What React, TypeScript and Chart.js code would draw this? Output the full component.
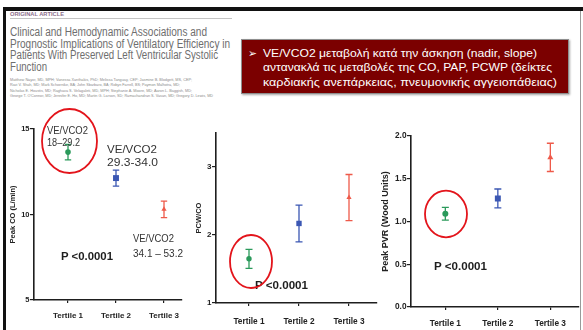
import React, { useEffect, useLayoutEffect, useRef } from 'react';
import { Chart, registerables } from 'chart.js';

Chart.register(...registerables);

const FONT = '"Liberation Sans", Arial, Helvetica, sans-serif';

// ---------- data ----------
const categories = ['Tertile 1', 'Tertile 2', 'Tertile 3'];
const tertileColors = ['#2b9a5b', '#3b57b3', '#ee5a4a'];
const tertileStyles = ['circle', 'rect', 'triangle'];

const coMeans = [13.65, 12.13, 10.3];
const coSem = [0.45, 0.47, 0.48];
const coTicks = [5, 10, 15];

const pcwMeans = [1.65, 2.17, 2.55];
const pcwSem = [0.14, 0.27, 0.34];
const pcwTicks = [1, 2, 3];

const pvrMeans = [1.09, 1.27, 1.75];
const pvrSem = [0.075, 0.11, 0.165];
const pvrTicks = [0, 0.5, 1, 1.5, 2];

const yTitles = ['Peak CO (L/min)', 'PCW/CO', 'Peak PVR (Wood Units)'];
const pValue = 'P <0.0001';

const titleLines = [
  'Clinical and Hemodynamic Associations and',
  'Prognostic Implications of Ventilatory Efficiency in',
  'Patients With Preserved Left Ventricular Systolic',
  'Function',
];
const authorLines = [
  'Matthew Nayor, MD, MPH; Vanessa Xanthakis, PhD; Melissa Tanguay, CEP; Jasmine B. Blodgett, MS, CEP;',
  'Ravi V. Shah, MD; Mark Schoenike, BA; John Sbarbaro, BA; Robyn Farrell, BS; Paymon Malhotra, MD;',
  'Nicholas E. Houstis, MD; Raghava S. Velagaleti, MD, MPH; Stephanie A. Moore, MD; Aaron L. Baggish, MD;',
  "George T. O'Connor, MD; Jennifer E. Ho, MD; Martin G. Larson, SD; Ramachandran S. Vasan, MD; Gregory D. Lewis, MD",
];
const boxLines = [
  'VE/VCO2 μεταβολή κατά την άσκηση (nadir, slope)',
  'αντανακλά τις μεταβολές της CO, PAP, PCWP (δείκτες',
  'καρδιακής ανεπάρκειας, πνευμονικής αγγειοπάθειας)',
];
const rangeLabels = [
  ['VE/VCO2', '18–29.2'],
  ['VE/VCO2', '29.3-34.0'],
  ['VE/VCO2', '34.1 – 53.2'],
];

// ---------- panel layout ----------
type Panel = {
  left: number; top: number; width: number; height: number;
  yAxisW: number; xAxisH: number; padTop: number; padRight: number;
  xMin: number; xMax: number; yMin: number; yMax: number;
  yTicks: number[]; decimals: number; means: number[]; sem: number[];
  title: string; titleSize: number; titlePad: number; tickSize: number;
  xTickSize: number; xTickPad: number; radii: number[]; capHalf: number;
};

const panels: Panel[] = [
  {
    left: 6, top: 110, width: 190, height: 220,
    yAxisW: 28, xAxisH: 30, padTop: 19, padRight: 14,
    xMin: 0.2917, xMax: 3.375, yMin: 5, yMax: 15,
    yTicks: coTicks, decimals: 0, means: coMeans, sem: coSem,
    title: yTitles[0], titleSize: 7.5, titlePad: 2.8, tickSize: 7.5,
    xTickSize: 8, xTickPad: 8, radii: [2.8, 4.2, 3], capHalf: 3.2,
  },
  {
    left: 190, top: 110, width: 195, height: 220,
    yAxisW: 26, xAxisH: 27, padTop: 23, padRight: 8,
    xMin: 0.34, xMax: 3.56, yMin: 1, yMax: 3.5,
    yTicks: pcwTicks, decimals: 0, means: pcwMeans, sem: pcwSem,
    title: yTitles[1], titleSize: 7.5, titlePad: 4, tickSize: 8,
    xTickSize: 8.3, xTickPad: 11, radii: [2.7, 3.8, 3], capHalf: 3.5,
  },
  {
    left: 377, top: 110, width: 206, height: 220,
    yAxisW: 34, xAxisH: 23, padTop: 26, padRight: 1,
    xMin: 0.346, xMax: 3.542, yMin: 0, yMax: 2,
    yTicks: pvrTicks, decimals: 1, means: pvrMeans, sem: pvrSem,
    title: yTitles[2], titleSize: 9, titlePad: 3.6, tickSize: 8.3,
    xTickSize: 8.3, xTickPad: 8.5, radii: [3, 4.2, 3.5], capHalf: 3.5,
  },
];

const errorBars = (p: Panel) => ({
  id: 'errorBars',
  beforeDatasetsDraw(chart: any) {
    const { ctx, scales } = chart;
    const x = scales.x;
    const y = scales.y;
    ctx.save();
    p.means.forEach((m, i) => {
      const px = x.getPixelForValue(i + 1);
      const top = y.getPixelForValue(m + p.sem[i]);
      const bot = y.getPixelForValue(m - p.sem[i]);
      ctx.strokeStyle = tertileColors[i];
      ctx.lineWidth = 1.3;
      ctx.beginPath();
      ctx.moveTo(px, top); ctx.lineTo(px, bot);
      ctx.moveTo(px - p.capHalf, top); ctx.lineTo(px + p.capHalf, top);
      ctx.moveTo(px - p.capHalf, bot); ctx.lineTo(px + p.capHalf, bot);
      ctx.stroke();
    });
    ctx.restore();
  },
});

function buildConfig(p: Panel): any {
  const axisColor = '#1e1e1e';
  return {
    type: 'scatter',
    data: {
      datasets: [{
        data: p.means.map((m, i) => ({ x: i + 1, y: m })),
        pointStyle: tertileStyles,
        pointRadius: p.radii,
        backgroundColor: tertileColors,
        borderColor: tertileColors,
        borderWidth: 0,
        showLine: false,
      }],
    },
    options: {
      responsive: false,
      animation: false,
      devicePixelRatio: 1,
      layout: { padding: { top: p.padTop, right: p.padRight, left: 0, bottom: 0 } },
      plugins: { legend: { display: false }, tooltip: { enabled: false } },
      scales: {
        x: {
          type: 'linear', min: p.xMin, max: p.xMax,
          afterBuildTicks: (s: any) => { s.ticks = [1, 2, 3].map((v) => ({ value: v })); },
          afterFit: (s: any) => { s.height = p.xAxisH; },
          ticks: {
            callback: (v: number) => categories[Math.round(v) - 1] ?? '',
            font: { family: FONT, size: p.xTickSize, weight: 'bold' },
            color: '#222', padding: p.xTickPad, maxRotation: 0, autoSkip: false,
          },
          grid: { drawOnChartArea: false, drawTicks: true, tickLength: 3, color: axisColor, lineWidth: 1.2 },
          border: { color: axisColor, width: 1.6 },
        },
        y: {
          type: 'linear', min: p.yMin, max: p.yMax,
          afterBuildTicks: (s: any) => { s.ticks = p.yTicks.map((v) => ({ value: v })); },
          afterFit: (s: any) => { s.width = p.yAxisW; },
          ticks: {
            callback: (v: number) => v.toFixed(p.decimals),
            font: { family: FONT, size: p.tickSize, weight: 'bold' },
            color: '#222', padding: 0.5,
          },
          title: {
            display: true, text: p.title, color: '#222',
            font: { family: FONT, size: p.titleSize, weight: 'bold' },
            padding: { top: p.titlePad, bottom: 0 },
          },
          grid: { drawOnChartArea: false, drawTicks: true, tickLength: 4, color: axisColor, lineWidth: 1.2 },
          border: { color: axisColor, width: 1.6 },
        },
      },
    },
    plugins: [errorBars(p)],
  };
}

function PanelChart({ p }: { p: Panel }) {
  const ref = useRef<HTMLCanvasElement>(null);
  useEffect(() => {
    const chart = new Chart(ref.current as HTMLCanvasElement, buildConfig(p));
    return () => chart.destroy();
  }, []);
  return (
    <canvas
      ref={ref}
      width={p.width}
      height={p.height}
      style={{ position: 'absolute', left: p.left, top: p.top, width: p.width, height: p.height }}
    />
  );
}

function FitText(props: {
  x: number; y: number; w: number; size: number; text: string;
  color?: string; weight?: any; family?: string; spacing?: number;
}) {
  const ref = useRef<HTMLDivElement>(null);
  useLayoutEffect(() => {
    const el = ref.current;
    if (!el) return;
    el.style.transform = 'translateY(-50%)';
    const nat = el.getBoundingClientRect().width;
    if (nat > 0) el.style.transform = `translateY(-50%) scaleX(${props.w / nat})`;
  }, []);
  return (
    <div
      ref={ref}
      style={{
        position: 'absolute', left: props.x, top: props.y, fontSize: props.size,
        lineHeight: 1, whiteSpace: 'pre', color: props.color ?? '#222',
        fontWeight: props.weight ?? 'normal', fontFamily: props.family ?? FONT,
        letterSpacing: props.spacing ?? 0, transformOrigin: '0 50%',
        transform: 'translateY(-50%)', zIndex: 3,
      }}
    >
      {props.text}
    </div>
  );
}

export default function App() {
  const titleY = [32, 43.5, 55, 67];
  const titleW = [197, 220, 208, 37];
  const authorY = [80, 85.3, 90.6, 96];
  const authorW = [182, 170, 182, 203];
  const boxY = [52.7, 67.3, 82];
  const boxW = [274, 289, 294];
  const rangePos = [
    { x: 47, y: [130, 142], w: [41, 33] },
    { x: 107, y: [149, 162], w: [50, 51] },
    { x: 133, y: [238, 253], w: [41, 50] },
  ];
  const pPos = [
    { x: 61, y: 257, w: 52 },
    { x: 255, y: 286, w: 53 },
    { x: 434, y: 267, w: 53 },
  ];
  const ellipses = [
    { cx: 69.5, cy: 141, rx: 27.5, ry: 32 },
    { cx: 251, cy: 261.5, rx: 21, ry: 26.5 },
    { cx: 446, cy: 214, rx: 21, ry: 23.3 },
  ];
  return (
    <div
      style={{
        position: 'fixed', left: 0, top: 0, width: 583, height: 330,
        background: '#fff', overflow: 'hidden', fontFamily: FONT,
      }}
    >
      {/* slide frame */}
      <div style={{ position: 'absolute', left: 3, top: 7, width: 580, height: 4, background: '#111' }} />
      <div style={{ position: 'absolute', left: 3, top: 7, width: 3, height: 323, background: '#111' }} />
      <div style={{ position: 'absolute', left: 580, top: 11, width: 1, height: 319, background: '#9a9a9a' }} />

      {/* article header */}
      <FitText x={10} y={15} w={54} size={5.5} text="ORIGINAL ARTICLE" color="#8d6f8c" weight="bold" />
      <div style={{ position: 'absolute', left: 10, top: 17.5, width: 222, height: 1, background: '#c4c4c4' }} />
      {titleLines.map((t, i) => (
        <FitText key={'t' + i} x={10} y={titleY[i]} w={titleW[i]} size={12} text={t} color="#6e6e6e" />
      ))}
      {authorLines.map((t, i) => (
        <FitText key={'a' + i} x={10} y={authorY[i]} w={authorW[i]} size={4} text={t} color="#8a8a8a" />
      ))}

      {/* red box */}
      <div
        style={{
          position: 'absolute', left: 241, top: 39, width: 328, height: 55,
          background: '#7b0000', border: '1px solid #8e8e8e', boxSizing: 'border-box',
          boxShadow: '1px 1px 2px rgba(0,0,0,0.35)',
        }}
      />
      <FitText x={248} y={52.5} w={9} size={11} text="➢" color="#fff" family='"DejaVu Sans", sans-serif' />
      {boxLines.map((t, i) => (
        <FitText key={'b' + i} x={263} y={boxY[i]} w={boxW[i]} size={11} text={t} color="#fff" />
      ))}

      {/* charts */}
      {panels.map((p, i) => <PanelChart key={'c' + i} p={p} />)}

      {/* annotations */}
      {rangeLabels.map((lines, i) =>
        lines.map((t, j) => (
          <FitText key={'r' + i + j} x={rangePos[i].x} y={rangePos[i].y[j]} w={rangePos[i].w[j]} size={10.5} text={t} color="#333" />
        ))
      )}
      {pPos.map((q, i) => (
        <FitText key={'p' + i} x={q.x} y={q.y} w={q.w} size={10} text={pValue} color="#1e1e1e" weight="bold" />
      ))}
      <svg
        width={583}
        height={330}
        style={{ position: 'absolute', left: 0, top: 0, zIndex: 4, pointerEvents: 'none' }}
      >
        {ellipses.map((e, i) => (
          <ellipse key={'e' + i} cx={e.cx} cy={e.cy} rx={e.rx} ry={e.ry} fill="none" stroke="#e3141b" strokeWidth={1.8} />
        ))}
      </svg>
    </div>
  );
}
